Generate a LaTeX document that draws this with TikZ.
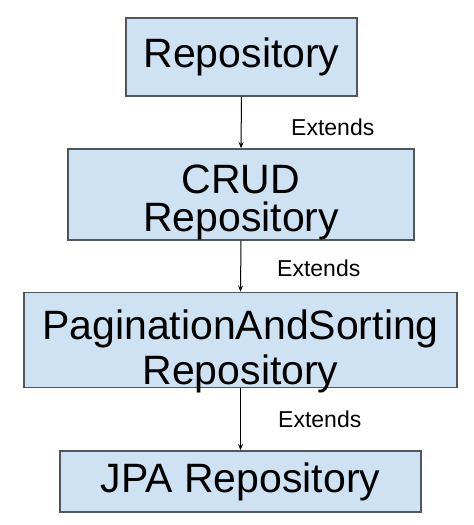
\documentclass[tikz,border=0pt]{standalone}
\usepackage{fontspec}
\setmainfont{Liberation Sans}
\usetikzlibrary{arrows.meta, positioning}
\definecolor{boxfill}{RGB}{207,226,243}
\definecolor{boxline}{RGB}{80,86,92}

\begin{document}
\begin{tikzpicture}[x=1pt, y=-1pt,
    repobox/.style={draw=boxline, line width=1.8pt, fill=boxfill, align=center,
        inner sep=0pt, font=\fontsize{41}{46}\selectfont},
    twoline/.style={text height=#1, text depth=0pt},
    extendsarrow/.style={-{Stealth[length=6pt, width=5pt]}, line width=1pt},
    extendslabel/.style={anchor=west, inner sep=0pt, font=\fontsize{23}{26}\selectfont}]
    \useasboundingbox (0,0) rectangle (474,525);

    % Boxes
    \node[repobox, minimum width=231pt, minimum height=78pt] (repo) at (241.5,57) {Repository};
    \node[repobox, twoline=74pt, font=\fontsize{41}{38}\selectfont,
          minimum width=346pt, minimum height=91pt] (crud) at (241,194.5) {CRUD\\Repository};
    \node[repobox, twoline=89pt, font=\fontsize{41}{45}\selectfont,
          minimum width=433pt, minimum height=95pt] (paging) at (240.5,340) {PaginationAndSorting\\Repository};
    \node[repobox, minimum width=361pt, minimum height=61pt] (jpa) at (240.5,481.5) {JPA Repository};

    % Arrows
    \draw[extendsarrow] (repo.south) -- (crud.north);
    \draw[extendsarrow] (crud.south) -- (paging.north);
    \draw[extendsarrow] (paging.south) -- (jpa.north);

    % Labels
    \node[extendslabel] (ext1) at (291,127) {Extends};
    \node[extendslabel] (ext2) at (277,268) {Extends};
    \node[extendslabel] (ext3) at (278,419) {Extends};
\end{tikzpicture}
\end{document}
